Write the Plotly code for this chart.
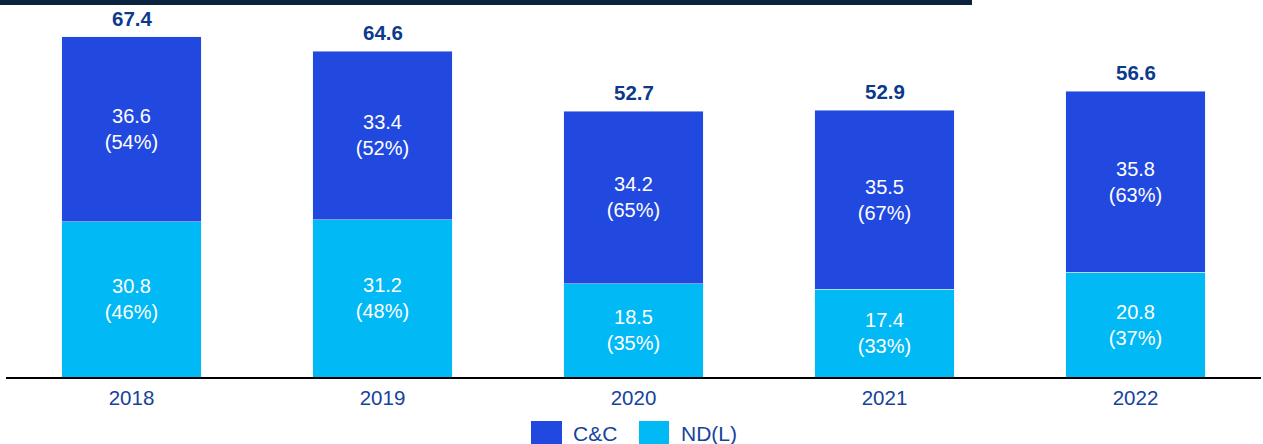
import plotly.graph_objects as go

years = ["2018", "2019", "2020", "2021", "2022"]
cc_vals = [36.6, 33.4, 34.2, 35.5, 35.8]
cc_pct = [54, 52, 65, 67, 63]
nd_vals = [30.8, 31.2, 18.5, 17.4, 20.8]
nd_pct = [46, 48, 35, 33, 37]
totals = [67.4, 64.6, 52.7, 52.9, 56.6]

C_CC = "#2149E0"
C_ND = "#00B9F5"
NAVY = "#0B3A8C"
TICK = "#16439C"
FONT = "Liberation Sans, Arial, sans-serif"

W, H = 1263, 444
L, R, T, B = 6, 2, 0, 67
plot_h = H - T - B
plot_w = W - L - R

fig = go.Figure()
fig.add_trace(go.Bar(
    x=years, y=nd_vals, name="ND(L)", marker_color=C_ND,
    text=[f"{v}<br>({p}%)" for v, p in zip(nd_vals, nd_pct)],
    textposition="inside", insidetextanchor="middle",
    textfont=dict(color="white", size=20, family=FONT),
    width=0.554, showlegend=False,
))
fig.add_trace(go.Bar(
    x=years, y=cc_vals, name="C&C", marker_color=C_CC,
    text=[f"{v}<br>({p}%)" for v, p in zip(cc_vals, cc_pct)],
    textposition="inside", insidetextanchor="middle",
    textfont=dict(color="white", size=20, family=FONT),
    width=0.554, showlegend=False,
))

for i, t in enumerate(totals):
    fig.add_annotation(x=i, y=t, xref="x", yref="y", text=f"<b>{t}</b>", showarrow=False,
                       yanchor="bottom", yshift=5,
                       font=dict(size=20.5, color=NAVY, family=FONT))

def px_x(px):
    return (px - L) / plot_w

def px_y(py):
    return (H - B - py) / plot_h

shapes = [
    dict(type="rect", xref="paper", yref="paper", x0=px_x(0), x1=px_x(972),
         y0=px_y(5), y1=px_y(-2), fillcolor="#0C2340", line_width=0, layer="above"),
    dict(type="rect", xref="paper", yref="paper", x0=px_x(531), x1=px_x(562),
         y0=px_y(446), y1=px_y(421), fillcolor=C_CC, line_width=0),
    dict(type="rect", xref="paper", yref="paper", x0=px_x(639), x1=px_x(669),
         y0=px_y(446), y1=px_y(421), fillcolor=C_ND, line_width=0),
]
fig.add_annotation(xref="paper", yref="paper", x=px_x(571), y=px_y(433),
                   xanchor="left", yanchor="middle", text="C&C", showarrow=False,
                   font=dict(size=21, color=TICK, family=FONT))
fig.add_annotation(xref="paper", yref="paper", x=px_x(679), y=px_y(433),
                   xanchor="left", yanchor="middle", text="ND(L)", showarrow=False,
                   font=dict(size=21, color=TICK, family=FONT))

fig.update_layout(
    width=W, height=H, barmode="stack",
    margin=dict(l=L, r=R, t=T, b=B, autoexpand=False),
    paper_bgcolor="white", plot_bgcolor="white",
    shapes=shapes,
    uniformtext=dict(mode=False),
)
fig.update_xaxes(type="category", showline=True, linecolor="black", linewidth=2,
                 ticks="outside", ticklen=1, tickcolor="rgba(0,0,0,0)",
                 tickfont=dict(size=20.5, color=TICK, family=FONT),
                 showgrid=False, range=[-0.5, 4.5], fixedrange=True)
fig.update_yaxes(visible=False, range=[0, plot_h / 5.045], showgrid=False)

fig.write_html("out.html", config={"displayModeBar": False},
               post_script="document.body.style.margin='0';document.body.style.overflow='hidden';")
